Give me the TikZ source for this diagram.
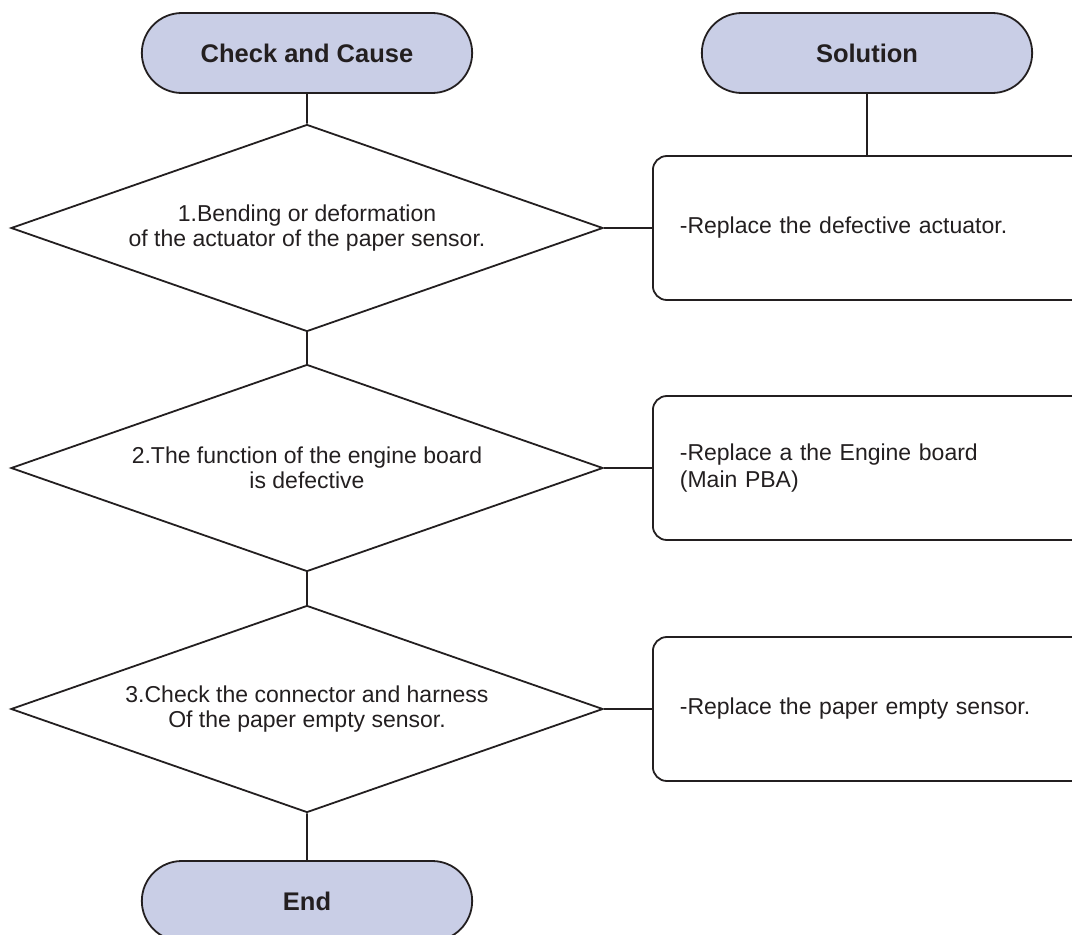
\documentclass[tikz,border=0pt]{standalone}
\usepackage{fontspec}
\setmainfont{Liberation Sans}
\usetikzlibrary{shapes.geometric, shapes.misc, positioning}
\definecolor{ink}{RGB}{35,31,32}
\definecolor{termfill}{RGB}{201,206,230}

\begin{document}
\begin{tikzpicture}[x=1pt,y=-1pt,line width=1.8pt,draw=ink,text=ink,
  term/.style={rounded rectangle,draw=ink,fill=termfill,minimum width=337pt,minimum height=80pt,font=\fontsize{25.5}{28}\selectfont\bfseries},
  check/.style={diamond,draw=ink,aspect=2.86,minimum width=592pt,minimum height=207pt,inner sep=0pt,align=center,font=\fontsize{23}{25}\selectfont},
  fix/.style={draw=ink,rounded corners=14pt,anchor=west,minimum height=144pt,text width=380pt,inner xsep=27pt,align=left,font=\fontsize{23}{27}\selectfont}]
\useasboundingbox (0,0) rectangle (1072,935);
\clip (0,0) rectangle (1072,935);

% column heads
\node[term] (cause) at (307,53) {Check and Cause};
\node[term] (sol) at (867,53) {Solution};

% checks
\node[check] (c1) at (307,228) {1.Bending or deformation\\of the actuator of the paper sensor.};
\node[check] (c2) at (307,468) {2.The function of the engine board\\is defective};
\node[check] (c3) at (307,709) {3.Check the connector and harness\\Of the paper empty sensor.};

% solutions
\node[fix] (f1) at (652,228) {-Replace the defective actuator.};
\node[fix] (f2) at (652,468) {-Replace a the Engine board\\(Main PBA)};
\node[fix] (f3) at (652,709) {-Replace the paper empty sensor.};

\node[term] (stop) at (307,901) {End};

\draw (cause) -- (c1);
\draw (c1) -- (c2);
\draw (c2) -- (c3);
\draw (c3) -- (stop);
\draw (sol.south) -- (sol.south |- f1.north);
\draw (c1.east) -- (f1.west);
\draw (c2.east) -- (f2.west);
\draw (c3.east) -- (f3.west);
\end{tikzpicture}
\end{document}
